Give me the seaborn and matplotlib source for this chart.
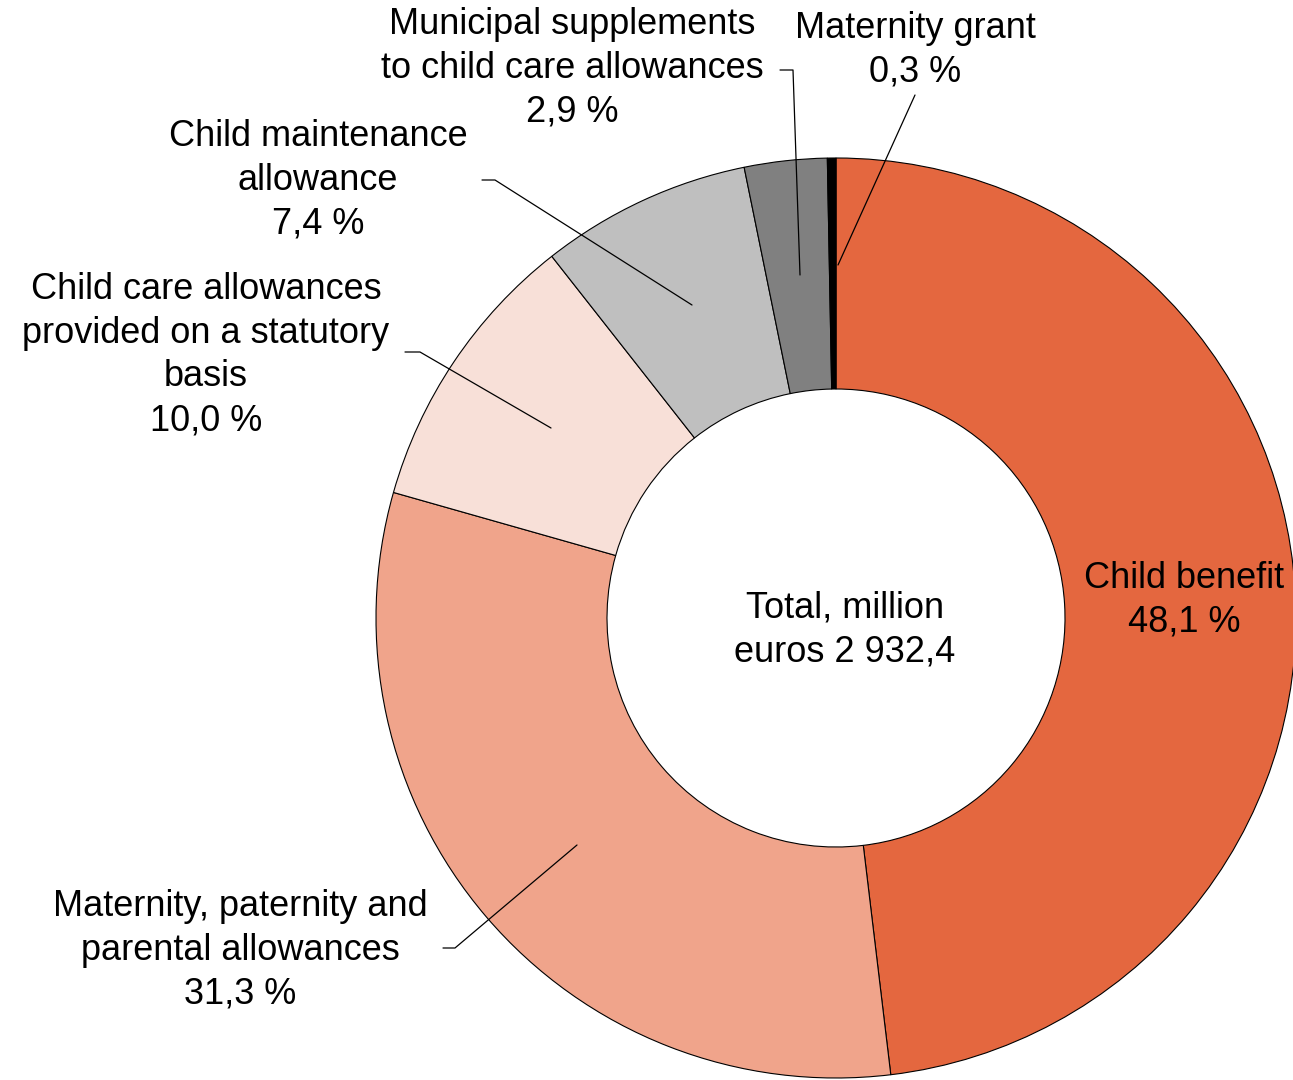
import matplotlib
matplotlib.use("Agg")
import matplotlib.pyplot as plt
import seaborn as sns
from matplotlib.lines import Line2D

sns.set_theme(style="white")
plt.rcParams['font.family'] = ['Liberation Sans', 'DejaVu Sans']

categories = ["Child benefit", "Maternity, paternity and\nparental allowances",
              "Child care allowances\nprovided on a statutory\nbasis",
              "Child maintenance\nallowance", "Municipal supplements\nto child care allowances",
              "Maternity grant"]
values = [48.1, 31.3, 10.0, 7.4, 2.9, 0.3]
pct_labels = ["48,1 %", "31,3 %", "10,0 %", "7,4 %", "2,9 %", "0,3 %"]
colors = ["#E4673F", "#F0A48B", "#F8E0D8", "#BFBFBF", "#808080", "#000000"]
total_label = "Total, million\neuros 2 932,4"

W, H = 1293, 1080
fig = plt.figure(figsize=(W/100, H/100), dpi=100)
cx, cy, R = 836, 618, 460
ax = fig.add_axes([(cx-R)/W, (H-cy-R)/H, 2*R/W, 2*R/H])
ax.pie(values, colors=colors, startangle=90, counterclock=False,
       wedgeprops=dict(width=1-229/460, edgecolor="black", linewidth=0.8))
ax.set_xlim(-1, 1); ax.set_ylim(-1, 1); ax.set_aspect("equal"); ax.axis("off")

def fx(x): return x/W
def fy(y): return 1-y/H

fs = 26
ls = 1.33
text_pos = [(1184, 600), (240, 950), (206, 355), (318, 180), (572, 68), (915, 50)]
for cat, p, (x, y) in zip(categories, pct_labels, text_pos):
    fig.text(fx(x), fy(y), cat + "\n" + p, ha="center", va="center",
             fontsize=fs, linespacing=ls, color="black")
fig.text(fx(845), fy(630), total_label, ha="center", va="center", fontsize=fs,
         linespacing=ls, color="black")

lines = [
    [(838, 265), (915, 95)],
    [(800, 275), (793, 70), (780, 70)],
    [(692, 305), (495, 180), (482, 180)],
    [(551, 428), (420, 352), (405, 352)],
    [(577, 845), (455, 948), (443, 948)],
]
for pts in lines:
    fig.add_artist(Line2D([fx(p[0]) for p in pts], [fy(p[1]) for p in pts],
                          color="black", linewidth=0.9))

fig.savefig("out.png", dpi=100, facecolor="white")
